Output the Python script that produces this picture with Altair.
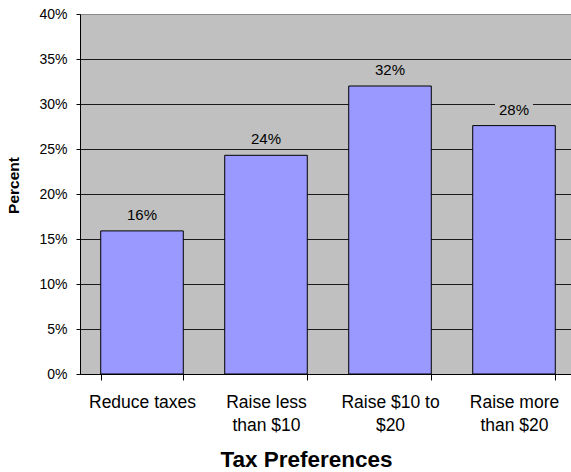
import altair as alt
import pandas as pd

categories = ["Reduce taxes", "Raise less\nthan $10", "Raise $10 to\n$20", "Raise more\nthan $20"]
values = [0.159, 0.243, 0.320, 0.276]
labels = ["16%", "24%", "32%", "28%"]

df = pd.DataFrame({"cat": categories, "val": values, "lab": labels})

FONT = "Liberation Sans"

x = alt.X(
    "cat:N",
    sort=categories,
    scale=alt.Scale(range=[0, 496], paddingInner=0.334, paddingOuter=0.167),
    axis=alt.Axis(
        title="Tax Preferences",
        labelAngle=0,
        labelExpr="split(datum.label, '\\n')",
        labelFont=FONT,
        labelFontSize=17.5,
        labelLineHeight=23,
        labelColor="#000000",
        labelBaseline="top",
        labelPadding=13,
        tickBand="extent",
        tickSize=6,
        tickColor="#000000",
        domainColor="#000000",
        titleFont=FONT,
        titleFontSize=22.5,
        titleFontWeight="bold",
        titleColor="#000000",
        titleX=226,
        titleY=85,
        titleAlign="center",
        titleBaseline="middle",
        grid=False,
    ),
)

y = alt.Y(
    "val:Q",
    scale=alt.Scale(domain=[0, 0.4], nice=False),
    axis=alt.Axis(
        title="Percent",
        values=[0, 0.05, 0.1, 0.15, 0.2, 0.25, 0.3, 0.35, 0.4],
        format=".0%",
        labelFont=FONT,
        labelFontSize=14,
        labelColor="#000000",
        labelPadding=9,
        tickSize=4,
        tickColor="#000000",
        domainColor="#000000",
        grid=True,
        gridColor={"condition": {"test": "datum.value >= 0.399", "value": "#8a8a8a"}, "value": "#1a1a1a"},
        gridOpacity=1,
        titleFont=FONT,
        titleFontSize=15.5,
        titleFontWeight="bold",
        titleColor="#000000",
        titleX=-67,
        titleY=171,
        titleAlign="center",
        titleBaseline="middle",
        titleAngle=270,
    ),
)

bars = alt.Chart(df).mark_bar(
    fill="#9999FF", stroke="#000000", strokeWidth=1
).encode(x=x, y=y)

boxes = alt.Chart(df).mark_point(
    shape="M -1 -0.45 L 1 -0.45 L 1 0.45 L -1 0.45 Z",
    size=1444,
    filled=True,
    fill="#C0C0C0",
    opacity=1,
    strokeWidth=0,
    yOffset=-16,
).encode(x=alt.X("cat:N", sort=categories), y="val:Q")

texts = alt.Chart(df).mark_text(
    font=FONT, fontSize=15, color="#000000", baseline="middle", align="center", yOffset=-16
).encode(x=alt.X("cat:N", sort=categories), y="val:Q", text="lab:N")

chart = (
    alt.layer(bars, boxes, texts)
    .properties(
        width=491,
        height=360,
        padding={"left": 80, "top": 14, "right": 0, "bottom": 98},
        autosize=alt.AutoSizeParams(type="none"),
        background="#FFFFFF",
    )
    .configure_view(fill="#C0C0C0", stroke="#8a8a8a", strokeWidth=1)
)

chart.save("out.html", embed_options={"renderer": "svg", "actions": False})
